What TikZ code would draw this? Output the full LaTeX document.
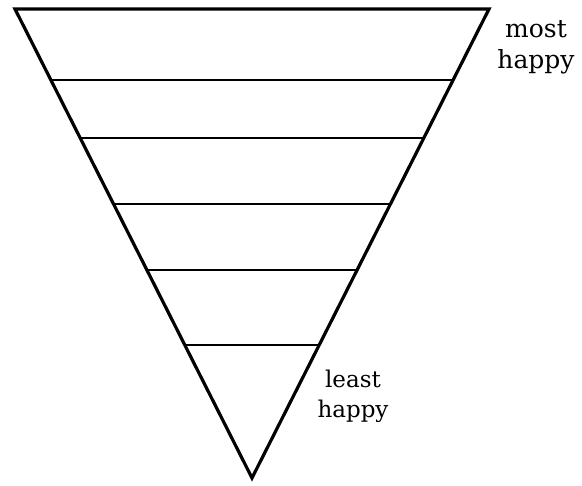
\documentclass[tikz,border=0pt]{standalone}
\usepackage{fontspec}
\setmainfont{DejaVu Serif}
\usepackage{tikz}
\usetikzlibrary{calc}

\begin{document}
\begin{tikzpicture}[
    x=1pt, y=-1pt,
    edge/.style={line width=3.2pt, line join=miter},
    rung/.style={line width=2.4pt},
    label/.style={align=center, inner sep=0pt},
]
\useasboundingbox (0,0) rectangle (582,486);

\coordinate (tl) at (15,9);
\coordinate (tr) at (489,9);
\coordinate (apex) at (252,478);

\draw[edge] (tl) -- (tr) -- (apex) -- cycle;

% levels from top to bottom
\foreach \t [count=\i] in {0.151, 0.275, 0.416, 0.556, 0.716} {
    \coordinate (l\i) at ($(tl)!\t!(apex)$);
    \coordinate (r\i) at ($(tr)!\t!(apex)$);
    \draw[rung] (l\i) -- (r\i);
}

\node[label, font=\fontsize{25}{31}\selectfont] (most) at (536,47) {most\\happy};
\node[label, font=\fontsize{23}{30}\selectfont] (least) at (353,396) {least\\happy};

\end{tikzpicture}
\end{document}
